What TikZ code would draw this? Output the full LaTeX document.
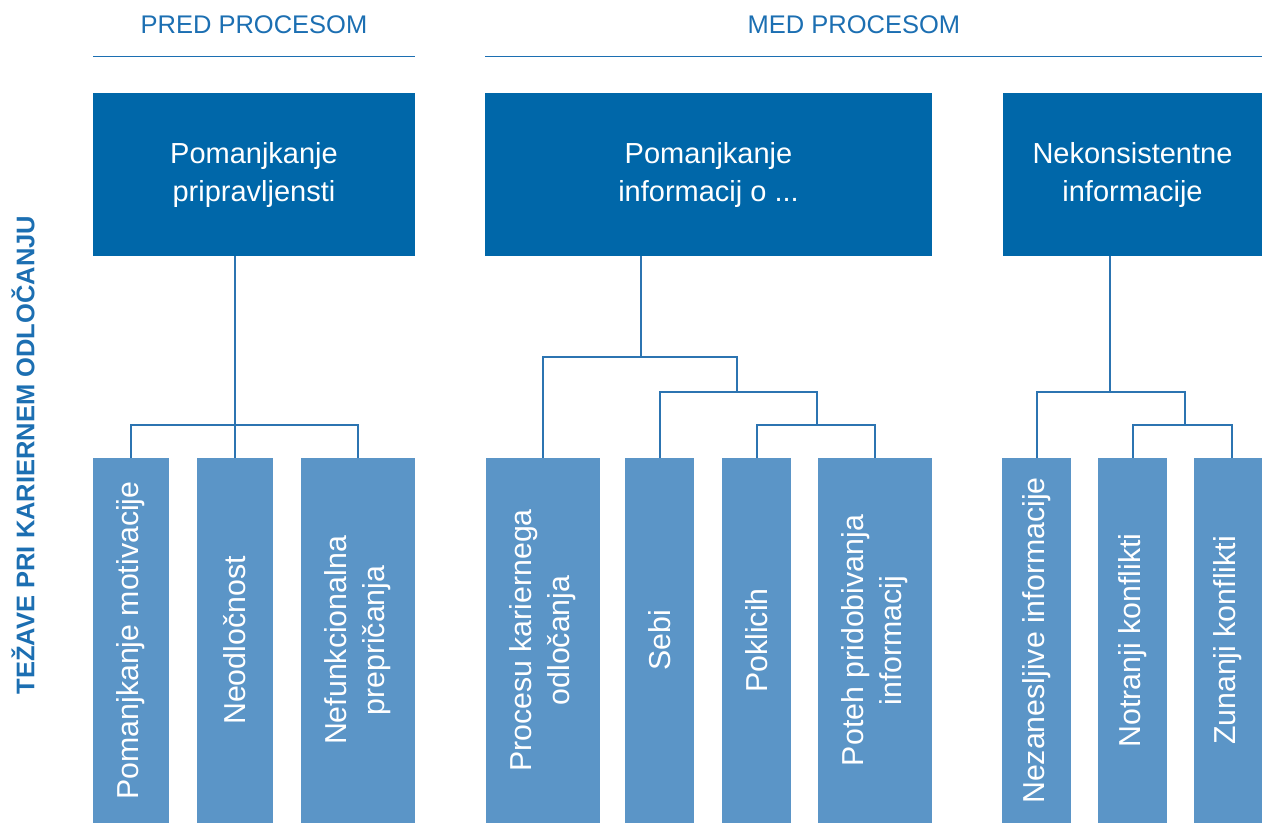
\documentclass[tikz,border=0pt]{standalone}
\usepackage{fontspec}
\setmainfont{Liberation Sans}
\definecolor{darkb}{HTML}{0067A9}
\definecolor{lightb}{HTML}{5B95C7}
\definecolor{lineb}{HTML}{2C74B1}
\definecolor{headb}{HTML}{1C6FB2}
\tikzset{
  topbox/.style={fill=darkb, text=white, inner sep=0pt, align=center,
    font=\fontsize{29}{38}\selectfont, minimum height=163pt},
  botbox/.style={fill=lightb, text=white, inner sep=0pt, align=center, rotate=90,
    font=\fontsize{30.3}{38}\selectfont, minimum width=365pt},
  conn/.style={draw=lineb, line width=2pt},
  hline/.style={draw=headb, line width=1.3pt},
  head/.style={text=headb, font=\fontsize{25.5}{30}\selectfont, inner sep=0pt},
}
\begin{document}
\begin{tikzpicture}[x=1pt, y=-1pt]
\useasboundingbox (0,0) rectangle (1262,823);
% headers
\node[head] (h1) at (254,25) {PRED PROCESOM};
\node[head] (h2) at (854,25) {MED PROCESOM};
\coordinate (h1a) at (93,56.5); \coordinate (h1b) at (415,56.5);
\coordinate (h2a) at (485,56.5); \coordinate (h2b) at (1262,56.5);
\draw[hline] (h1a) -- (h1b);
\draw[hline] (h2a) -- (h2b);
% side title
\node[rotate=90, text=headb, font=\fontsize{25.5}{30}\selectfont\bfseries, inner sep=0pt] (title) at (23,455) {TEŽAVE PRI KARIERNEM ODLOČANJU};
% top boxes
\node[topbox, minimum width=322pt] (t1) at (254,174.5) {\raisebox{-2pt}{\begin{tabular}{@{}c@{}}Pomanjkanje\\pripravljensti\end{tabular}}};
\node[topbox, minimum width=447pt] (t2) at (708.5,174.5) {\raisebox{-2pt}{\begin{tabular}{@{}c@{}}Pomanjkanje\\informacij o ...\end{tabular}}};
\node[topbox, minimum width=259pt] (t3) at (1132.5,174.5) {\raisebox{-2pt}{\begin{tabular}{@{}c@{}}Nekonsistentne\\informacije\end{tabular}}};
% bottom boxes (rotated: east anchor is the top edge)
\node[botbox, minimum height=76pt] (b1) at (131,640.5) {Pomanjkanje motivacije};
\node[botbox, minimum height=76pt] (b2) at (235,640.5) {Neodločnost};
\node[botbox, minimum height=114pt] (b3) at (358,640.5) {Nefunkcionalna\\prepričanja};
\node[botbox, minimum height=114pt] (b4) at (543,640.5) {Procesu kariernega\\odločanja};
\node[botbox, minimum height=69pt] (b5) at (659.5,640.5) {Sebi};
\node[botbox, minimum height=69pt] (b6) at (756.5,640.5) {Poklicih};
\node[botbox, minimum height=114pt] (b7) at (875,640.5) {Poteh pridobivanja\\informacij};
\node[botbox, minimum height=69pt] (b8) at (1036.5,640.5) {Nezanesljive informacije};
\node[botbox, minimum height=69pt] (b9) at (1132.5,640.5) {Notranji konflikti};
\node[botbox, minimum height=68pt] (b10) at (1228,640.5) {Zunanji konflikti};
% junctions
\coordinate (m1) at (235,425);
\coordinate (m2) at (641,357);
\coordinate (k2) at (737,391.5);
\coordinate (l2) at (817,425);
\coordinate (m3) at (1110,391.5);
\coordinate (l3) at (1185,425);
\coordinate (b10n) at (1232,458);
% connectors group 1
\draw[conn] (t1.south -| b2.east) -- (b2.east);
\draw[conn] (b1.east) |- (m1) -| (b3.east);
% group 2
\draw[conn] (t2.south -| m2) -- (m2);
\draw[conn] (b4.east) |- (m2) -| (k2);
\draw[conn] (b5.east) |- (k2) -| (l2);
\draw[conn] (b6.east) |- (l2) -| (b7.east);
% group 3
\draw[conn] (t3.south -| m3) -- (m3);
\draw[conn] (b8.east) |- (m3) -| (l3);
\draw[conn] (b9.east) |- (l3) -| (b10n);
\end{tikzpicture}
\end{document}
